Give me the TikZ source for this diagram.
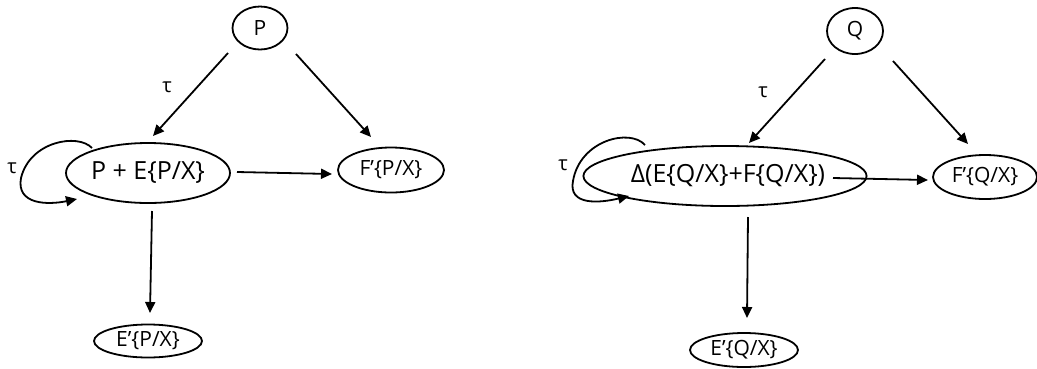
\documentclass[tikz,border=0pt]{standalone}
\usepackage{fontspec}
\setmainfont{Open Sans}
\usetikzlibrary{shapes.geometric,arrows.meta}
\tikzset{
  state/.style={draw, ellipse, line width=1.8pt, inner sep=0pt},
  edge/.style={line width=1.8pt, -{Triangle[length=11pt,width=10pt]}},
  big/.style={font=\fontsize{25}{25}\selectfont},
  small/.style={font=\fontsize{21}{21}\selectfont},
  lbl/.style={font=\fontsize{20}{20}\selectfont, inner sep=0pt}
}
\begin{document}
\begin{tikzpicture}[x=1pt,y=-1pt]
\useasboundingbox (0,0) rectangle (1037,368);

% left graph
\node[state, small, minimum width=55pt, minimum height=43pt] (P) at (260,28) {P};
\node[state, big, minimum width=164pt, minimum height=60pt] (M) at (148,173) {P + E\{P/X\}};
\node[state, small, minimum width=106pt, minimum height=45pt] (F) at (391,170) {F’\{P/X\}};
\node[state, small, minimum width=108pt, minimum height=33pt] (E) at (148,341) {E’\{P/X\}};

\draw[edge] ([shift={(-32,25)}]P.center) -- ([shift={(5,-37)}]M.center);
\draw[edge] ([shift={(36,26)}]P.center) -- ([shift={(-20,-33)}]F.center);
\draw[edge] ([shift={(89,-1)}]M.center) -- ([shift={(-59,4)}]F.center);
\draw[edge] ([shift={(4,38)}]M.center) -- ([shift={(2,-28)}]E.center);
\draw[edge] ([shift={(-56,-25)}]M.center)
  .. controls ([shift={(-70,-40)}]M.center) and ([shift={(-118,-32)}]M.center) .. ([shift={(-127,5)}]M.center)
  .. controls ([shift={(-132,32)}]M.center) and ([shift={(-100,32)}]M.center) .. ([shift={(-71,26)}]M.center);
\node[lbl] (t1) at (167,87) {τ};
\node[lbl] (t2) at (12,168) {τ};

% right graph
\node[state, small, minimum width=56pt, minimum height=46pt] (Q) at (855,31) {Q};
\node[state, big, minimum width=204pt, minimum height=60pt] (M2) at (725,176) {\hspace*{6pt}Δ(E\{Q/X\}+F\{Q/X\})};
\node[state, small, minimum width=104pt, minimum height=44pt] (F2) at (985,177) {F’\{Q/X\}};
\node[state, small, minimum width=108pt, minimum height=34pt] (E2) at (744,350) {E’\{Q/X\}};

\draw[edge] ([shift={(-30,28)}]Q.center) -- ([shift={(24,-33)}]M2.center);
\draw[edge] ([shift={(38,30)}]Q.center) -- ([shift={(-17,-33)}]F2.center);
\draw[edge] ([shift={(108,2)}]M2.center) -- ([shift={(-57,3)}]F2.center);
\draw[edge] ([shift={(23,41)}]M2.center) -- ([shift={(3,-32)}]E2.center);
\draw[edge] ([shift={(-80,-31)}]M2.center)
  .. controls ([shift={(-95,-48)}]M2.center) and ([shift={(-145,-36)}]M2.center) .. ([shift={(-152,5)}]M2.center)
  .. controls ([shift={(-157,30)}]M2.center) and ([shift={(-125,27)}]M2.center) .. ([shift={(-96,20)}]M2.center);
\node[lbl] (t3) at (763,92) {τ};
\node[lbl] (t4) at (563,165) {τ};
\end{tikzpicture}
\end{document}
